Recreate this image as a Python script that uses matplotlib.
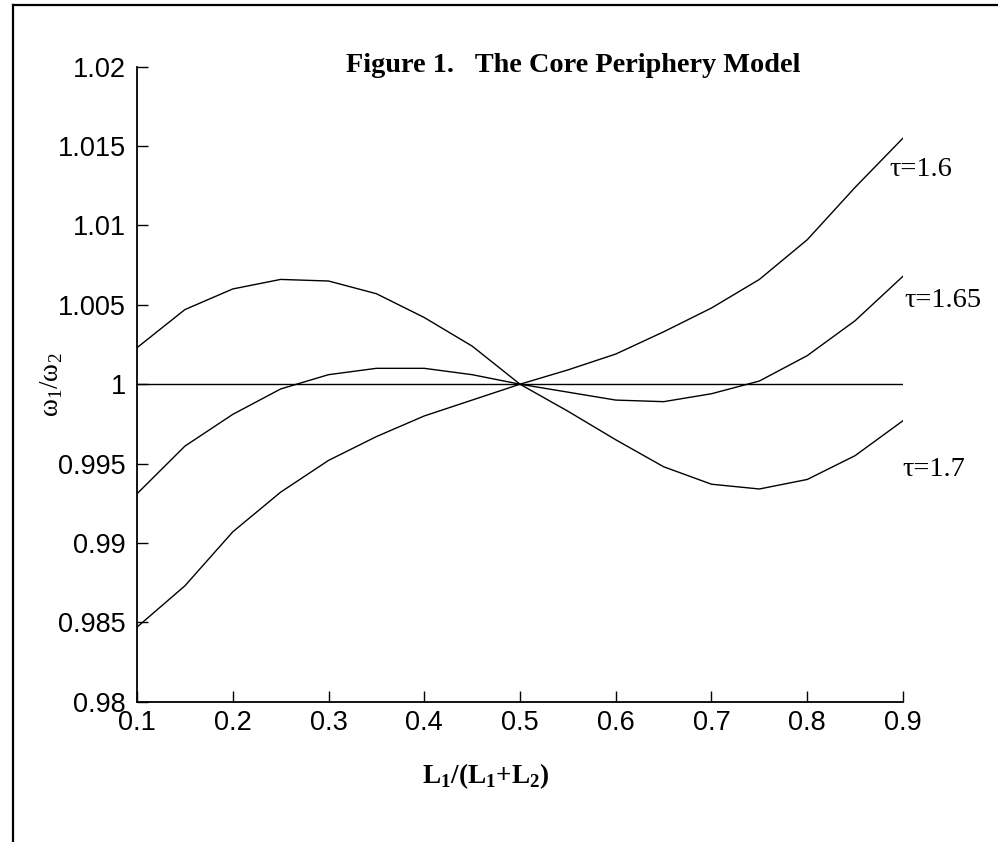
import matplotlib
matplotlib.use("Agg")
import matplotlib.pyplot as plt
from matplotlib.lines import Line2D

# share of labour in region 1
share = [0.10, 0.15, 0.20, 0.25, 0.30, 0.35, 0.40, 0.45, 0.50,
         0.55, 0.60, 0.65, 0.70, 0.75, 0.80, 0.85, 0.90]

# relative wage w1/w2 for three transport costs
wage_16 = [0.9847, 0.9873, 0.9907, 0.9932, 0.9952, 0.9967, 0.9980, 0.9990, 1.0000,
           1.0009, 1.0019, 1.0033, 1.0048, 1.0066, 1.0091, 1.0124, 1.0155]
wage_165 = [0.9931, 0.9961, 0.9981, 0.9997, 1.0006, 1.0010, 1.0010, 1.0006, 1.0000,
            0.9995, 0.9990, 0.9989, 0.9994, 1.0002, 1.0018, 1.0040, 1.0068]
wage_17 = [1.0023, 1.0047, 1.0060, 1.0066, 1.0065, 1.0057, 1.0042, 1.0024, 1.0000,
           0.9983, 0.9965, 0.9948, 0.9937, 0.9934, 0.9940, 0.9955, 0.9977]
baseline = [1.0] * len(share)

curve_labels = ["τ=1.6", "τ=1.65", "τ=1.7"]

xticks = [0.1, 0.2, 0.3, 0.4, 0.5, 0.6, 0.7, 0.8, 0.9]
yticks = [0.98, 0.985, 0.99, 0.995, 1.0, 1.005, 1.01, 1.015, 1.02]
ytick_labels = ["0.98", "0.985", "0.99", "0.995", "1", "1.005", "1.01", "1.015", "1.02"]

fig = plt.figure(figsize=(9.98, 8.42), dpi=100)
ax = fig.add_axes([0.1373, 0.1666, 0.7675, 0.7542])

lw = 1.0
ax.plot(share, wage_16, color="black", lw=lw)
ax.plot(share, wage_165, color="black", lw=lw)
ax.plot(share, wage_17, color="black", lw=lw)
ax.plot(share, baseline, color="black", lw=lw)

ax.set_xlim(0.1, 0.9)
ax.set_ylim(0.98, 1.02)
ax.set_xticks(xticks)
ax.set_xticklabels([str(t) for t in xticks])
ax.set_yticks(yticks)
ax.set_yticklabels(ytick_labels)

for side in ["top", "right"]:
    ax.spines[side].set_visible(False)
for side in ["left", "bottom"]:
    ax.spines[side].set_linewidth(1.3)

ax.tick_params(direction="in", length=8, width=1.0, labelsize=19.5, pad=8)
for lab in ax.get_xticklabels() + ax.get_yticklabels():
    lab.set_family("Liberation Sans")
ax.tick_params(axis="x", pad=6)

# curve labels on the right
serif = "Liberation Serif"
fig.text(889 / 998, 1 - 170 / 842, curve_labels[0], family=serif, fontsize=20.5, va="center")
fig.text(904 / 998, 1 - 300 / 842, curve_labels[1], family=serif, fontsize=20.5, va="center")
fig.text(902 / 998, 1 - 470 / 842, curve_labels[2], family=serif, fontsize=20.5, va="center")

# title and axis labels
fig.text(573 / 998, 1 - 66 / 842, "Figure 1.   The Core Periphery Model",
         family=serif, fontweight="bold", fontsize=20.3, ha="center", va="center")
fig.text(486 / 998, 1 - 776 / 842, r"L$_\mathregular{1}$/(L$_\mathregular{1}$+L$_\mathregular{2}$)",
         family=serif, fontweight="bold", fontsize=19.5, ha="center", va="center")
fig.text(52 / 998, 1 - 385 / 842, r"ω$_\mathregular{1}$/ω$_\mathregular{2}$",
         family=serif, fontsize=19.5, rotation=90, ha="center", va="center")

# scanned frame on the left and top
fig.add_artist(Line2D([13 / 998, 13 / 998], [0, 1 - 5 / 842], color="black", lw=1.6,
                      transform=fig.transFigure))
fig.add_artist(Line2D([13 / 998, 1], [1 - 5 / 842, 1 - 5 / 842], color="black", lw=1.6,
                      transform=fig.transFigure))

fig.savefig("out.png", dpi=100)
